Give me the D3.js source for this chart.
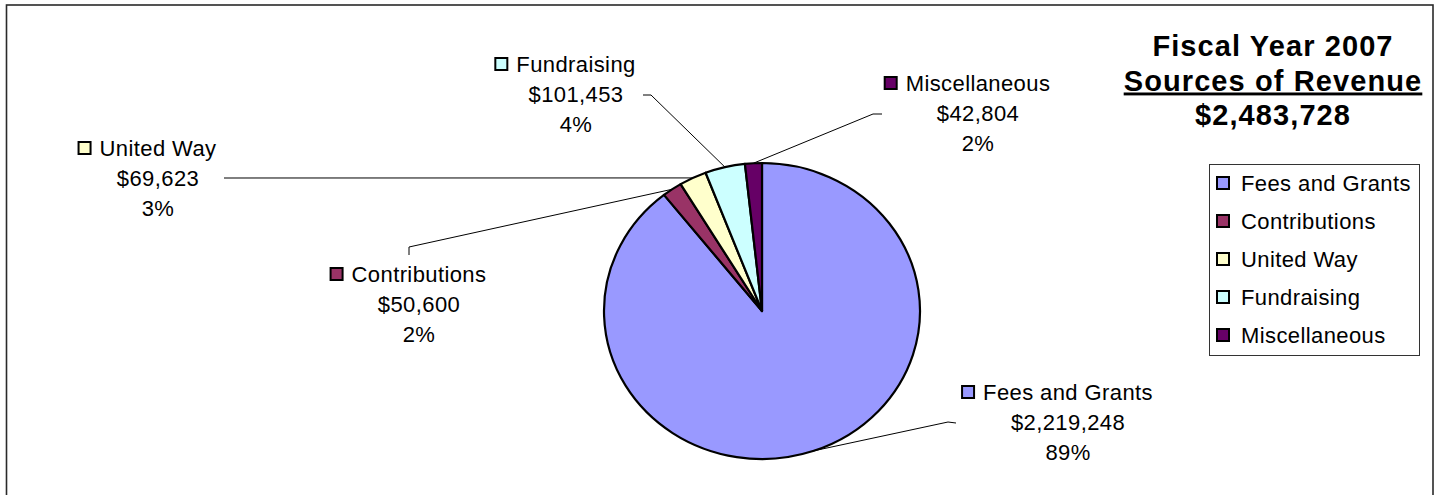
<!DOCTYPE html>
<html>
<head>
<meta charset="utf-8">
<script src="https://cdn.jsdelivr.net/npm/d3@7"></script>
<style>
  html, body { margin: 0; padding: 0; background: #fff; }
  svg { display: block; }
  text { font-family: "Liberation Sans", Arial, sans-serif; fill: #000; }
</style>
</head>
<body>
<svg id="chart" width="1437" height="495"></svg>
<script>
// ---- data ----
const categories = ["Fees and Grants", "Contributions", "United Way", "Fundraising", "Miscellaneous"];
const values = [2219248, 50600, 69623, 101453, 42804];
const colors = ["#9999FF", "#993366", "#FFFFCC", "#CCFFFF", "#660066"];
const titleLines = ["Fiscal Year 2007", "Sources of Revenue", "$2,483,728"];

// ---- layout (positions only) ----
const W = 1437, H = 495;
const cx = 762, cy = 311, ry = 148, rx = 158;
const fontSize = 22;
const letterSp = 0.4;
// label placement: centre x of text block, centre y of first line, leader start and bend
const labelLayout = [
  { x: 1068, y: 392, lead: [[956, 423], [948, 422]] },
  { x: 419,  y: 274, lead: [[409, 255], [409, 247]] },
  { x: 158,  y: 148, lead: [[224, 178], [232, 178]] },
  { x: 576,  y: 64,  lead: [[643, 95], [651, 95]] },
  { x: 978,  y: 83,  lead: [[882, 114], [873, 114]] }
];

const svg = d3.select("#chart");
const total = d3.sum(values);
const fmt = d3.format(",");

// outer border
svg.append("rect")
  .attr("x", 6.5).attr("y", 5).attr("width", 1426.5).attr("height", 520)
  .attr("fill", "#fff").attr("stroke", "#2a2a2a").attr("stroke-width", 1.6);

// pie
const pie = d3.pie().sort(null).value(d => d)(values);
const arc = d3.arc().innerRadius(0).outerRadius(ry);
const edgeArc = d3.arc().innerRadius(ry).outerRadius(ry);
const sx = rx / ry;

const g = svg.append("g").attr("transform", `translate(${cx},${cy}) scale(${sx},1)`);
g.selectAll("path").data(pie).enter().append("path")
  .attr("d", arc)
  .attr("fill", (d, i) => colors[i])
  .attr("stroke", "#000")
  .attr("stroke-width", 2.2)
  .attr("stroke-linejoin", "round")
  .attr("vector-effect", "non-scaling-stroke");

// leader lines
const leaders = svg.append("g");
pie.forEach((d, i) => {
  const c = edgeArc.centroid(d);
  const end = [cx + c[0] * sx, cy + c[1]];
  const pts = labelLayout[i].lead.concat([end]);
  leaders.append("path")
    .attr("d", d3.line()(pts))
    .attr("fill", "none")
    .attr("stroke", "#000")
    .attr("stroke-width", 1);
});

// data labels
const labels = svg.append("g").attr("font-size", fontSize).attr("letter-spacing", letterSp);
pie.forEach((d, i) => {
  const L = labelLayout[i];
  const lines = [categories[i], "$" + fmt(values[i]), Math.round(values[i] / total * 100) + "%"];
  let firstWidth = 0;
  lines.forEach((t, k) => {
    const te = labels.append("text")
      .attr("x", L.x).attr("y", L.y + k * 30 + 8)
      .attr("text-anchor", "middle")
      .text(t);
    if (k === 0) firstWidth = te.node().getComputedTextLength();
  });
  labels.append("rect")
    .attr("x", L.x - firstWidth / 2 - 9 - 12)
    .attr("y", L.y - 6)
    .attr("width", 12).attr("height", 12)
    .attr("fill", colors[i]).attr("stroke", "#000").attr("stroke-width", 2);
});

// title
const tg = svg.append("g").attr("font-size", 29).attr("font-weight", "bold");
titleLines.forEach((t, k) => {
  tg.append("text")
    .attr("x", 1273).attr("y", 56 + k * 34.5)
    .attr("text-anchor", "middle")
    .attr("letter-spacing", 1.1)
    .style("text-decoration", k === 1 ? "underline" : "none")
    .text(t);
});

// legend
const lg = svg.append("g");
lg.append("rect")
  .attr("x", 1209.5).attr("y", 164.5).attr("width", 210).attr("height", 191)
  .attr("fill", "#fff").attr("stroke", "#333").attr("stroke-width", 1);
const legY = d3.scalePoint().domain(categories).range([183, 335]);
categories.forEach((c, i) => {
  lg.append("rect")
    .attr("x", 1217).attr("y", legY(c) - 6)
    .attr("width", 12).attr("height", 12)
    .attr("fill", colors[i]).attr("stroke", "#000").attr("stroke-width", 2);
  lg.append("text")
    .attr("x", 1241).attr("y", legY(c) + 8)
    .attr("font-size", fontSize)
    .attr("letter-spacing", letterSp)
    .text(c);
});
</script>
</body>
</html>
